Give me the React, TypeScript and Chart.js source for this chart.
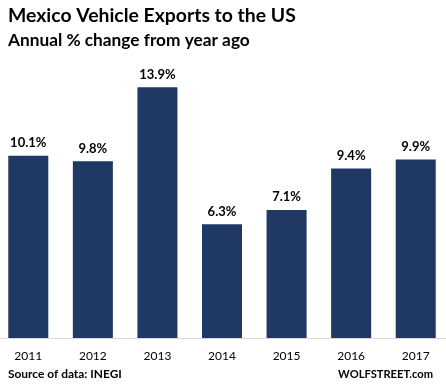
import React, { useEffect, useRef } from "react";
import { Chart, registerables } from "chart.js";

Chart.register(...registerables);

const years = ["2011", "2012", "2013", "2014", "2015", "2016", "2017"];
const changes = [10.1, 9.8, 13.9, 6.3, 7.1, 9.4, 9.9];
const titleText = "Mexico Vehicle Exports to the US";
const subtitleText = "Annual % change from year ago";
const sourceText = "Source of data: INEGI";
const brandText = "WOLFSTREET.com";

const SHIFT = 4; // canvas is shifted left by this many px
const FONT = "Lato, 'Open Sans', sans-serif";
const BAR = "#203864";
const TEXT = "#000000";

function fitText(
  ctx: CanvasRenderingContext2D,
  text: string,
  weight: string,
  target: number,
  maxSize: number
) {
  let size = maxSize;
  ctx.font = `${weight} ${size}px ${FONT}`;
  const w = ctx.measureText(text).width;
  if (w > target) {
    size = (size * target) / w;
  }
  ctx.font = `${weight} ${size}px ${FONT}`;
}

const textPlugin = {
  id: "textPlugin",
  afterDatasetsDraw(chart: any) {
    const ctx: CanvasRenderingContext2D = chart.ctx;
    ctx.save();
    const meta = chart.getDatasetMeta(0);
    ctx.fillStyle = TEXT;
    ctx.font = `bold 13px ${FONT}`;
    ctx.textAlign = "center";
    ctx.textBaseline = "alphabetic";
    meta.data.forEach((bar: any, i: number) => {
      const v = chart.data.datasets[0].data[i] as number;
      ctx.fillText(v.toFixed(1) + "%", bar.x, bar.y - 8.5);
    });

    ctx.textAlign = "left";
    fitText(ctx, titleText, "bold", 288, 21);
    ctx.fillText(titleText, 8 + SHIFT, 22);
    fitText(ctx, subtitleText, "bold", 242, 19);
    ctx.fillText(subtitleText, 8 + SHIFT, 46);

    fitText(ctx, sourceText, "bold", 114, 14);
    ctx.fillText(sourceText, 8 + SHIFT, 378);
    ctx.textAlign = "right";
    fitText(ctx, brandText, "bold", 95, 14);
    ctx.fillText(brandText, 433 + SHIFT, 378);
    ctx.restore();
  },
};

export default function App() {
  const ref = useRef<HTMLCanvasElement | null>(null);

  useEffect(() => {
    document.body.style.margin = "0";
    const canvas = ref.current;
    if (!canvas) return;
    const chart = new Chart(canvas, {
      type: "bar",
      data: {
        labels: years,
        datasets: [
          {
            data: changes,
            backgroundColor: BAR,
            borderWidth: 0,
            barPercentage: 0.62,
            categoryPercentage: 1,
          },
        ],
      },
      options: {
        responsive: false,
        animation: false,
        devicePixelRatio: 1,
        layout: { padding: { top: 67.4, left: 0, right: 2, bottom: 17.6 } },
        plugins: {
          legend: { display: false },
          title: { display: false },
          tooltip: { enabled: false },
        },
        scales: {
          x: {
            grid: { display: false, drawTicks: false },
            border: { display: true, color: "#d9d9d9", width: 1 },
            ticks: {
              color: TEXT,
              padding: 11,
              font: { family: FONT, size: 12, lineHeight: 1.2 },
            },
          },
          y: {
            display: false,
            min: 0,
            max: 15,
          },
        },
      },
      plugins: [textPlugin],
    });
    return () => chart.destroy();
  }, []);

  return (
    <div style={{ position: "relative", width: 446, height: 392, overflow: "hidden", background: "#fff" }}>
      <canvas
        ref={ref}
        width={446 + 8}
        height={392}
        style={{ display: "block", width: 454, height: 392, marginLeft: -SHIFT }}
      />
    </div>
  );
}
